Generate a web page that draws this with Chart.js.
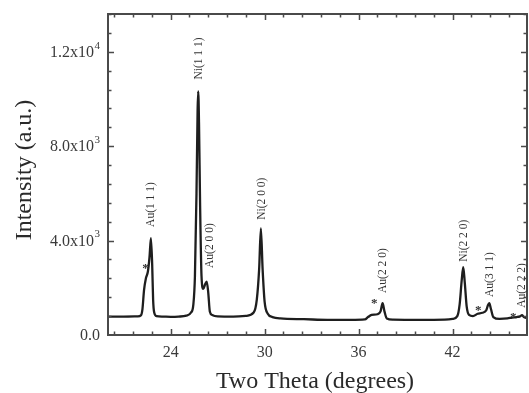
<!DOCTYPE html>
<html>
<head>
<meta charset="utf-8">
<script src="https://cdn.jsdelivr.net/npm/chart.js@4.4.1/dist/chart.umd.min.js"></script>
<style>
  html, body { margin: 0; padding: 0; background: #fff; }
  #wrap { width: 529px; height: 393px; }
</style>
</head>
<body>
<div id="wrap"><canvas id="xrd" width="529" height="393"></canvas></div>
<script>
// XRD pattern of the Au/Ni sample
const twoTheta = [
  20.0, 21.0, 21.9, 22.1, 22.2, 22.3, 22.42, 22.55, 22.65, 22.74, 22.82, 22.88, 22.95, 23.1, 23.5,
  24.0, 24.5, 25.0, 25.3, 25.45, 25.55, 25.65, 25.72, 25.76, 25.81, 25.88, 25.97, 26.08, 26.2, 26.3,
  26.4, 26.5, 26.65, 27.0, 28.0, 28.8, 29.3, 29.5, 29.65, 29.76, 29.87, 30.0, 30.2, 30.5, 31.0,
  32.5, 34.0, 35.5, 36.4, 36.6, 36.83, 37.2, 37.4, 37.53, 37.65, 37.8, 38.2, 40.0, 41.5, 42.0,
  42.3, 42.45, 42.58, 42.68, 42.78, 42.9, 43.05, 43.3, 43.6, 43.9, 44.15, 44.25, 44.34, 44.45, 44.6,
  45.0, 45.5, 45.8, 46.1, 46.3, 46.43, 46.55, 46.75
];
const intensity = [
  780, 780, 790, 830, 1100, 1900, 2400, 2700, 3300, 4100, 3000, 1500, 950, 800, 780,
  770, 780, 820, 950, 1300, 2500, 6000, 9500, 10320, 9000, 5500, 2500, 1950, 2150, 2260,
  1800, 1000, 850, 790, 780, 810, 950, 1500, 2800, 4520, 2800, 1400, 900, 760, 700,
  670, 640, 640, 660, 760, 850, 880, 1000, 1345, 1000, 700, 650, 640, 650, 680,
  800, 1300, 2300, 2870, 2200, 1200, 850, 800, 900, 940, 1050, 1250, 1345, 1100, 760,
  680, 700, 740, 760, 790, 840, 760, 720
];

// Axis ticks
const xMajorTicks = [24, 30, 36, 42];
const xTickLabels = ['24', '30', '36', '42'];
const xMinorStep = 1.2;
const yMajorTicks = [0, 4000, 8000, 12000];
const yTickMantissa = ['0.0', '4.0x10', '8.0x10', '1.2x10'];
const yTickExponent = ['', '3', '3', '4'];
const yMinorStep = 800;

// Reflection labels and the marked secondary-phase shoulders
const peakNames = ['Au(1 1 1)', 'Ni(1 1 1)', 'Au(2 0 0)', 'Ni(2 0 0)', 'Au(2 2 0)', 'Ni(2 2 0)', 'Au(3 1 1)', 'Au(2 2 2)'];
const peakLabelX = [22.74, 25.8, 26.5, 29.8, 37.55, 42.72, 44.38, 46.42];
const peakLabelY = [4580, 10820, 2840, 4880, 1780, 3100, 1610, 1150];
const starX = [22.4, 37.0, 43.64, 45.87];
const starY = [2950, 1450, 1150, 860];

const SERIF = '"Liberation Serif", "Times New Roman", serif';

const framePlugin = {
  id: 'frame',
  afterDraw(chart) {
    const { ctx, chartArea: a, scales: { x, y } } = chart;
    ctx.save();
    // frame
    ctx.strokeStyle = '#4a4a4a';
    ctx.lineWidth = 2;
    ctx.strokeRect(a.left, a.top, a.right - a.left, a.bottom - a.top);

    // x ticks (bottom and top, pointing inward)
    ctx.lineWidth = 1.5;
    for (let v = 20.4; v <= x.max + 1e-6; v += xMinorStep) {
      const px = Math.round(x.getPixelForValue(v)) + 0.5;
      const major = xMajorTicks.some(t => Math.abs(t - v) < 1e-6);
      const len = major ? 6 : 3.5;
      ctx.beginPath();
      ctx.moveTo(px, a.bottom); ctx.lineTo(px, a.bottom - len);
      ctx.moveTo(px, a.top); ctx.lineTo(px, a.top + len);
      ctx.stroke();
    }
    // y ticks (left and right)
    for (let v = yMinorStep; v <= y.max; v += yMinorStep) {
      const py = Math.round(y.getPixelForValue(v)) + 0.5;
      const major = yMajorTicks.includes(v);
      const len = major ? 6 : 3.5;
      ctx.beginPath();
      ctx.moveTo(a.left, py); ctx.lineTo(a.left + len, py);
      ctx.moveTo(a.right, py); ctx.lineTo(a.right - len, py);
      ctx.stroke();
    }

    // x tick labels
    ctx.fillStyle = '#3a3a3a';
    ctx.font = '16px ' + SERIF;
    ctx.textAlign = 'center';
    ctx.textBaseline = 'middle';
    xMajorTicks.forEach((t, i) => {
      ctx.fillText(xTickLabels[i], x.getPixelForValue(t), a.bottom + 18);
    });

    // y tick labels with superscript exponents
    yMajorTicks.forEach((t, i) => {
      const py = y.getPixelForValue(t) + 1;
      const right = a.left - 8;
      ctx.textAlign = 'right';
      ctx.textBaseline = 'middle';
      if (yTickExponent[i]) {
        ctx.font = '11px ' + SERIF;
        const ew = ctx.measureText(yTickExponent[i]).width;
        ctx.fillText(yTickExponent[i], right, py - 7);
        ctx.font = '16px ' + SERIF;
        ctx.fillText(yTickMantissa[i], right - ew - 0.5, py);
      } else {
        ctx.font = '16px ' + SERIF;
        ctx.fillText(yTickMantissa[i], right, py);
      }
    });

    // axis titles
    ctx.fillStyle = '#2a2a2a';
    ctx.font = '24px ' + SERIF;
    ctx.textAlign = 'center';
    ctx.textBaseline = 'middle';
    ctx.fillText('Two Theta (degrees)', 315, 382);
    ctx.save();
    ctx.translate(25, 170);
    ctx.rotate(-Math.PI / 2);
    ctx.font = '24px ' + SERIF;
    ctx.fillText('Intensity (a.u.)', 0, 0);
    ctx.restore();

    // reflection labels (rotated, reading upward)
    ctx.fillStyle = '#333';
    ctx.font = '11.5px ' + SERIF;
    peakNames.forEach((name, i) => {
      ctx.save();
      ctx.translate(x.getPixelForValue(peakLabelX[i]), y.getPixelForValue(peakLabelY[i]));
      ctx.rotate(-Math.PI / 2);
      ctx.textAlign = 'left';
      ctx.textBaseline = 'middle';
      ctx.fillText(name, 0, 0);
      ctx.restore();
    });

    // asterisks
    ctx.font = 'bold 13px ' + SERIF;
    ctx.textAlign = 'center';
    ctx.textBaseline = 'middle';
    starX.forEach((sx, i) => {
      ctx.fillText('*', x.getPixelForValue(sx), y.getPixelForValue(starY[i]) + 3);
    });
    ctx.restore();
  }
};

new Chart(document.getElementById('xrd'), {
  type: 'line',
  data: {
    datasets: [{
      data: twoTheta.map((t, i) => ({ x: t, y: intensity[i] })),
      borderColor: '#1e1e1e',
      borderWidth: 2.3,
      pointRadius: 0,
      cubicInterpolationMode: 'monotone',
      fill: false
    }]
  },
  options: {
    responsive: false,
    animation: false,
    devicePixelRatio: 1,
    layout: { padding: { top: 14, right: 2, left: 0, bottom: 0 } },
    plugins: { legend: { display: false }, tooltip: { enabled: false } },
    scales: {
      x: {
        type: 'linear', min: 20, max: 46.75,
        grid: { display: false }, border: { display: false },
        ticks: { display: false },
        afterFit: s => { s.height = 58; }
      },
      y: {
        min: 0, max: 13600,
        grid: { display: false }, border: { display: false },
        ticks: { display: false },
        afterFit: s => { s.width = 108; }
      }
    }
  },
  plugins: [framePlugin]
});
</script>
</body>
</html>
